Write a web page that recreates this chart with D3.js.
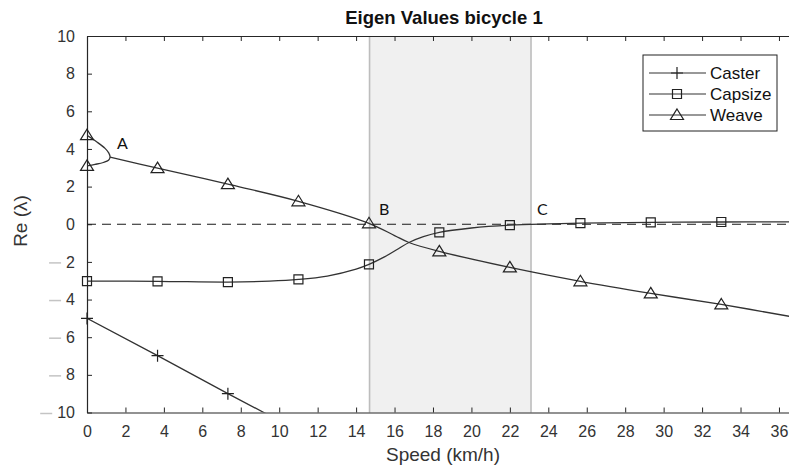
<!DOCTYPE html>
<html>
<head>
<meta charset="utf-8">
<script src="https://cdn.jsdelivr.net/npm/d3@7"></script>
<style>
  body { margin: 0; background: #fff; }
  text { font-family: "Liberation Sans", Arial, sans-serif; }
</style>
</head>
<body>
<div id="chart"></div>
<script>
var casterSpeed = [0, 3.67, 7.33, 9.2, 11];
var casterRe    = [-5.0, -6.98, -9.0, -10.0, -11.0];
var casterMarkSpeed = [0, 3.67, 7.33];
var casterMarkRe    = [-5.0, -6.98, -9.0];

var capsizeSpeed = [0, 3.67, 7.33, 9.5, 11, 12.5, 14, 14.67, 15.5, 16.2, 16.75, 17.5, 18.33, 20, 22, 24, 25.67, 29.33, 33, 36.6];
var capsizeRe    = [-3.02, -3.03, -3.07, -3.02, -2.93, -2.75, -2.38, -2.13, -1.72, -1.3, -0.97, -0.66, -0.43, -0.2, -0.05, 0.02, 0.06, 0.1, 0.12, 0.13];
var capsizeMarkSpeed = [0, 3.67, 7.33, 11, 14.67, 18.33, 22, 25.67, 29.33, 33];
var capsizeMarkRe    = [-3.02, -3.03, -3.07, -2.93, -2.13, -0.43, -0.05, 0.06, 0.1, 0.12];

// weave: two real roots at low speed that merge at point A
var weaveLoopSpeed = [0, 0.5, 0.94, 1.13, 1.2, 1.12, 0.85, 0.42, 0];
var weaveLoopRe    = [4.73, 4.38, 4.03, 3.79, 3.57, 3.4, 3.28, 3.18, 3.1];
var weaveSpeed = [1.2, 3.67, 7.33, 11, 14.67, 16, 16.75, 18.33, 22, 25.67, 29.33, 33, 36.6];
var weaveRe    = [3.57, 2.98, 2.13, 1.22, 0.05, -0.6, -0.97, -1.44, -2.29, -3.03, -3.67, -4.26, -4.9];
var weaveMarkSpeed = [0, 0, 3.67, 7.33, 11, 14.67, 18.33, 22, 25.67, 29.33, 33];
var weaveMarkRe    = [4.73, 3.1, 2.98, 2.13, 1.22, 0.05, -1.44, -2.29, -3.03, -3.67, -4.26];

var band = [14.7, 23.1];
var xTicks = d3.range(0, 37, 2);
var yTicks = d3.range(-10, 11, 2);
var notes = [{t: "A", s: 1.56, r: 3.99}, {t: "B", s: 15.19, r: 0.48}, {t: "C", s: 23.41, r: 0.48}];
var legendNames = ["Caster", "Capsize", "Weave"];

var W = 789, H = 468;
var margin = {top: 36, left: 87, bottom: 55.5};

var svg = d3.select("#chart").append("svg")
    .attr("width", W).attr("height", H);

var x = d3.scaleLinear().domain([0, 36.6]).range([margin.left, margin.left + 703.5]);
var y = d3.scaleLinear().domain([-10, 10]).range([H - margin.bottom, margin.top]);

svg.append("clipPath").attr("id", "clip")
  .append("rect")
    .attr("x", x(0)).attr("y", y(10))
    .attr("width", x(36.6) - x(0)).attr("height", y(-10) - y(10));

// shaded speed band
svg.append("rect")
    .attr("x", x(band[0])).attr("y", y(10))
    .attr("width", x(band[1]) - x(band[0])).attr("height", y(-10) - y(10))
    .style("fill", "#f0f0f0");
band.forEach(function(b) {
  svg.append("line")
      .attr("x1", x(b)).attr("x2", x(b)).attr("y1", y(10)).attr("y2", y(-10))
      .style("stroke", "#bdbdbd").style("stroke-width", 1.6);
});

// axes
var axisColor = "#262626";
var xAxis = svg.append("g")
    .attr("transform", "translate(0," + y(-10) + ")")
    .call(d3.axisBottom(x).tickValues(xTicks).tickSizeInner(-5).tickSizeOuter(0).tickPadding(13));
var xTop = svg.append("g")
    .attr("transform", "translate(0," + y(10) + ")")
    .call(d3.axisTop(x).tickValues(xTicks).tickSizeInner(-5).tickSizeOuter(0).tickFormat(""));
var yAxis = svg.append("g")
    .attr("transform", "translate(" + x(0) + ",0)")
    .call(d3.axisLeft(y).tickValues(yTicks).tickSizeInner(-5).tickSizeOuter(0).tickPadding(12)
      .tickFormat(function(d) { return Math.abs(d); }));

[xAxis, xTop, yAxis].forEach(function(g) {
  g.select(".domain").style("stroke", axisColor).style("stroke-width", 1.2);
  g.selectAll(".tick line").style("stroke", axisColor);
  g.selectAll(".tick text").style("fill", "#333").style("font-size", "16px")
    .style("font-family", "'Liberation Sans', Arial, sans-serif");
});

// faint long minus sign before the negative y labels
yAxis.selectAll(".tick").filter(function(d) { return d < 0; })
  .each(function() {
    var t = d3.select(this).select("text");
    var left = t.node().getBBox().x;
    d3.select(this).append("line")
        .attr("x1", left - 17).attr("x2", left - 5).attr("y1", 0.5).attr("y2", 0.5)
        .style("stroke", "#c4c4c4").style("stroke-width", 1.5);
  });

// zero line
svg.append("line")
    .attr("x1", x(0)).attr("x2", x(36.6)).attr("y1", y(0)).attr("y2", y(0))
    .style("stroke", "#1a1a1a").style("stroke-width", 1.2).style("stroke-dasharray", "9,6");

var line = d3.line().x(function(d) { return x(d[0]); }).y(function(d) { return y(d[1]); });
var lineColor = "#333";
var plot = svg.append("g").attr("clip-path", "url(#clip)");

function series(sp, re) { return sp.map(function(s, i) { return [s, re[i]]; }); }

plot.append("path").datum(series(casterSpeed, casterRe)).attr("d", line.curve(d3.curveLinear))
    .style("fill", "none").style("stroke", lineColor).style("stroke-width", 1.3);
line.curve(d3.curveCatmullRom);
[series(capsizeSpeed, capsizeRe), series(weaveLoopSpeed, weaveLoopRe), series(weaveSpeed, weaveRe)].forEach(function(s) {
  plot.append("path").datum(s).attr("d", line)
      .style("fill", "none").style("stroke", lineColor).style("stroke-width", 1.3);
});

// markers (not clipped, so the ones on the left edge stay whole)
var plus = "M-6,0H6M0,-6V6";
var square = "M-4.5,-4.5H4.5V4.5H-4.5Z";
var tri = "M0,-6L6.5,4.5H-6.5Z";
var marks = svg.append("g");
function markers(sp, re, shape) {
  marks.selectAll(null).data(series(sp, re)).enter().append("path")
      .attr("transform", function(d) { return "translate(" + x(d[0]) + "," + y(d[1]) + ")"; })
      .attr("d", shape)
      .style("fill", "none").style("stroke", "#222").style("stroke-width", 1.2);
}
markers(casterMarkSpeed, casterMarkRe, plus);
markers(capsizeMarkSpeed, capsizeMarkRe, square);
markers(weaveMarkSpeed, weaveMarkRe, tri);

// point labels
svg.selectAll(".note").data(notes).enter().append("text")
    .attr("x", function(d) { return x(d.s); })
    .attr("y", function(d) { return y(d.r); })
    .style("font-family", "Lato, 'Open Sans', sans-serif").style("font-size", "16px").style("fill", "#111")
    .text(function(d) { return d.t; });

// titles
svg.append("text").attr("x", 444).attr("y", 24).attr("text-anchor", "middle")
    .style("font-weight", "bold").style("font-size", "18.5px").style("fill", "#111")
    .text("Eigen Values bicycle 1");
svg.append("text").attr("x", 443).attr("y", 461).attr("text-anchor", "middle")
    .style("font-size", "19px").style("fill", "#333")
    .text("Speed (km/h)");
svg.append("text").attr("transform", "translate(27,221) rotate(-90)").attr("text-anchor", "middle")
    .style("font-size", "19px").style("fill", "#333")
    .text("Re (\u03bb)");

// legend
var lg = svg.append("g").attr("transform", "translate(643,55)");
lg.append("rect").attr("width", 134).attr("height", 76)
    .style("fill", "#fff").style("stroke", "#222").style("stroke-width", 1);
var shapes = [plus, square, tri];
legendNames.forEach(function(n, i) {
  var ly = 18 + i * 21;
  lg.append("line").attr("x1", 6).attr("x2", 63).attr("y1", ly).attr("y2", ly)
      .style("stroke", lineColor).style("stroke-width", 1.2);
  lg.append("path").attr("d", shapes[i]).attr("transform", "translate(34," + ly + ")")
      .style("fill", "none").style("stroke", "#222").style("stroke-width", 1.2);
  lg.append("text").attr("x", 67).attr("y", ly).attr("dy", "0.35em")
      .style("font-size", "17px").style("fill", "#111").text(n);
});
</script>
</body>
</html>
